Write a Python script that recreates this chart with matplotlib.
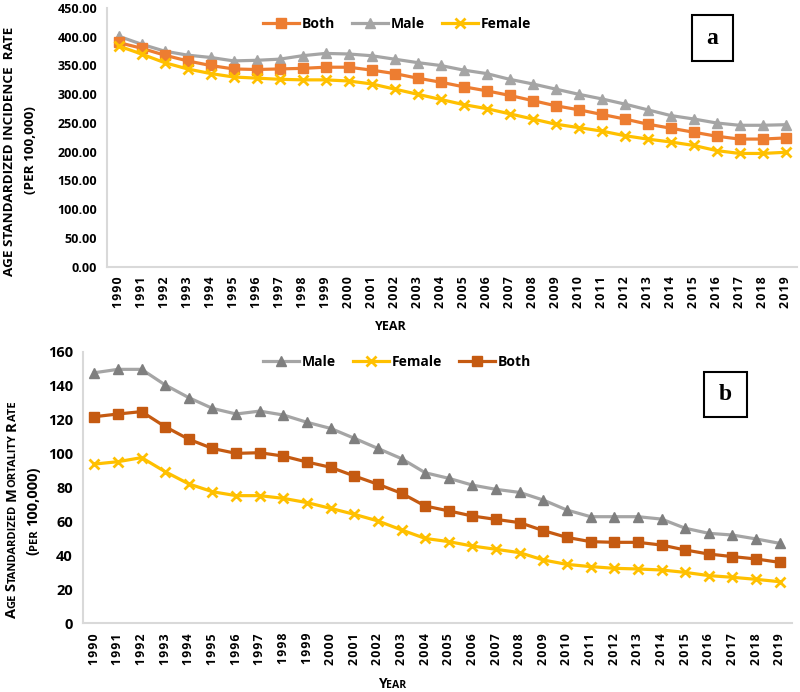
import matplotlib
matplotlib.use("Agg")
import matplotlib.pyplot as plt
import matplotlib.transforms as mtrans
import numpy as np

years = [str(y) for y in range(1990, 2020)]

inc_both = [390, 380, 368, 358, 350, 344, 343, 344, 345, 347, 347, 342, 336, 328, 321,
            313, 306, 298, 289, 280, 273, 265, 257, 248, 241, 234, 227, 222, 222, 224]
inc_male = [401, 387, 375, 368, 364, 358, 359, 361, 367, 371, 370, 367, 361, 355, 350,
            342, 336, 326, 318, 309, 300, 292, 283, 273, 263, 257, 250, 246, 246, 247]
inc_female = [384, 370, 355, 344, 336, 330, 328, 326, 325, 325, 323, 318, 309, 300, 291,
              282, 275, 266, 257, 248, 242, 236, 228, 222, 217, 211, 202, 197, 197, 199]

mort_male = [147.6, 149.6, 149.6, 140.4, 132.9, 126.6, 123.3, 125.0, 122.7, 118.4, 114.8,
             109.0, 103.0, 97.0, 88.7, 85.4, 81.4, 78.9, 77.1, 72.6, 66.7, 62.8, 62.8,
             62.8, 61.4, 56.0, 53.0, 52.0, 49.7, 47.1]
mort_female = [93.8, 95.2, 97.6, 89.3, 82.1, 77.5, 75.2, 75.2, 73.6, 71.1, 67.7, 64.2,
               60.3, 55.0, 50.0, 48.1, 45.5, 43.6, 41.6, 37.3, 34.7, 33.4, 32.4, 32.0,
               31.4, 30.0, 28.1, 27.1, 25.9, 24.5]
mort_both = [121.7, 123.3, 124.7, 115.8, 108.4, 103.0, 100.1, 100.5, 98.5, 95.0, 91.9,
             86.8, 81.9, 76.6, 69.1, 66.2, 63.2, 61.2, 59.3, 54.6, 50.6, 48.1, 47.7,
             47.7, 46.1, 43.2, 40.8, 39.3, 37.9, 35.9]

FONT = "Open Sans"
plt.rcParams['font.family'] = [FONT, 'DejaVu Sans']

W, H = 800, 692
fig = plt.figure(figsize=(8, 6.92), dpi=100)

def px_axes(l, r, t, b):
    return fig.add_axes([l / W, 1 - b / H, (r - l) / W, (b - t) / H])

SPINE = "#D9D9D9"
x = np.arange(len(years))
spaced_years = ["\u200a".join(y) for y in years]

def style(ax, ymax, step, fmt, ysize):
    for s in ['top', 'right']:
        ax.spines[s].set_visible(False)
    for s in ['left', 'bottom']:
        ax.spines[s].set_color(SPINE)
        ax.spines[s].set_linewidth(1.5)
    ax.set_xlim(-0.5, len(years) - 0.5)
    ax.set_ylim(0, ymax)
    ax.set_yticks(np.arange(0, ymax + 0.1, step))
    ax.set_yticklabels([fmt.format(v) for v in np.arange(0, ymax + 0.1, step)],
                       fontsize=ysize, fontweight='bold')
    ax.set_xticks(x)
    ax.set_xticklabels(spaced_years, rotation=90, fontsize=8.8, fontweight='bold')
    ax.tick_params(length=0, pad=7)

# ---- panel a ----
ax1 = px_axes(107, 797, 8, 266.7)
lw, ms = 2.3, 7.5
ax1.plot(x, inc_both, color="#ED7D31", lw=lw, marker='s', ms=ms, label='Both', zorder=3)
ax1.plot(x, inc_male, color="#A5A5A5", lw=lw, marker='^', ms=ms, label='Male', zorder=2)
ax1.plot(x, inc_female, color="#FFC000", lw=lw, marker='x', ms=ms, mew=2, label='Female', zorder=4)
style(ax1, 450, 50, "{:.2f}", 9)
ax1.legend(loc='center', bbox_to_anchor=(397 / W, 1 - 24 / H), bbox_transform=fig.transFigure,
           ncol=3, frameon=False, prop={'weight': 'bold', 'size': 10},
           handlelength=2.6, columnspacing=1.2, handletextpad=0.2)
fig.text(391 / W, 1 - 327 / H, "YEAR", ha='center', va='center',
         fontsize=9, fontweight='bold')
fig.text(10 / W, 1 - 151 / H, "AGE STANDARDIZED INCIDENCE  RATE", rotation=90,
         ha='center', va='center', fontsize=9.7, fontweight='bold')
fig.text(30 / W, 1 - 150 / H, "(PER 100,000)", rotation=90,
         ha='center', va='center', fontsize=9.7, fontweight='bold')

# ---- panel b ----
ax2 = px_axes(82.5, 791.5, 351.7, 623.3)
ax2.plot(x, mort_male, color="#A5A5A5", lw=lw, marker='^', ms=ms, mfc="#7F7F7F",
         mec="#7F7F7F", label='Male', zorder=2)
ax2.plot(x, mort_female, color="#FFC000", lw=lw, marker='x', ms=ms, mew=2, label='Female', zorder=4)
ax2.plot(x, mort_both, color="#C55A11", lw=lw, marker='s', ms=ms, label='Both', zorder=3)
style(ax2, 160, 20, "{:.0f}", 10.5)
ax2.legend(loc='center', bbox_to_anchor=(397 / W, 1 - 362 / H), bbox_transform=fig.transFigure,
           ncol=3, frameon=False, prop={'weight': 'bold', 'size': 10},
           handlelength=2.6, columnspacing=1.2, handletextpad=0.2)

# boxed panel letters
for (l, r, t, b, s) in [(692, 733, 15, 61, "a"), (704, 747, 372, 417, "b")]:
    fig.patches.append(plt.Rectangle((l / W, 1 - b / H), (r - l) / W, (b - t) / H,
                                     transform=fig.transFigure, fill=False,
                                     edgecolor='black', lw=1.5))
    fig.text((l + r) / 2 / W, 1 - (t + b) / 2 / H, s, ha='center', va='center',
             fontsize=17, fontweight='bold', family='Liberation Serif')

# small-caps helper
fig.canvas.draw()
renderer = fig.canvas.get_renderer()
ident = mtrans.IdentityTransform()

def text_width(s, size):
    t = fig.text(0, 0, s, fontsize=size, fontweight='bold')
    w = t.get_window_extent(renderer).width
    t.remove()
    return w

def smallcaps(pieces, cx, cy, rotate, big=10.5, small=8):
    sizes = [big if b else small for _, b in pieces]
    widths = []
    for (s, b), sz in zip(pieces, sizes):
        if s == " ":
            widths.append(sz * 0.30)
        else:
            widths.append(text_width(s, sz))
    total = sum(widths)
    dx, dy = cx, H - cy
    pos = -total / 2
    for (s, b), sz, w in zip(pieces, sizes, widths):
        if s != " ":
            if rotate:
                fig.text(dx + big * 0.35, dy + pos, s, fontsize=sz, fontweight='bold',
                         rotation=90, rotation_mode='anchor', ha='left', va='baseline',
                         transform=ident)
            else:
                fig.text(dx + pos, dy - big * 0.35, s, fontsize=sz, fontweight='bold',
                         ha='left', va='baseline', transform=ident)
        pos += w

def sc_words(text):
    pieces = []
    words = text.split(" ")
    for i, wd in enumerate(words):
        if i > 0:
            pieces.append((" ", True))
        rest = wd
        j = 0
        while j < len(wd) and not wd[j].isalpha():
            j += 1
        if j > 0:
            pieces.append((wd[:j], True))
            rest = wd[j:]
        if not rest:
            continue
        if wd[0].isupper() and j == 0:
            pieces.append((rest[0], True))
            rest = rest[1:]
        k = 0
        while k < len(rest) and rest[k].isalpha():
            k += 1
        if rest[:k]:
            pieces.append((rest[:k].upper(), False))
        if rest[k:]:
            pieces.append((rest[k:], True))
    return pieces

smallcaps(sc_words("Age Standardized Mortality Rate"), 12, 510, True)
smallcaps(sc_words("(per 100,000)"), 33, 511, True)
smallcaps(sc_words("Year"), 392, 684, False, big=10, small=7.6)

fig.savefig("out.png", dpi=100)
